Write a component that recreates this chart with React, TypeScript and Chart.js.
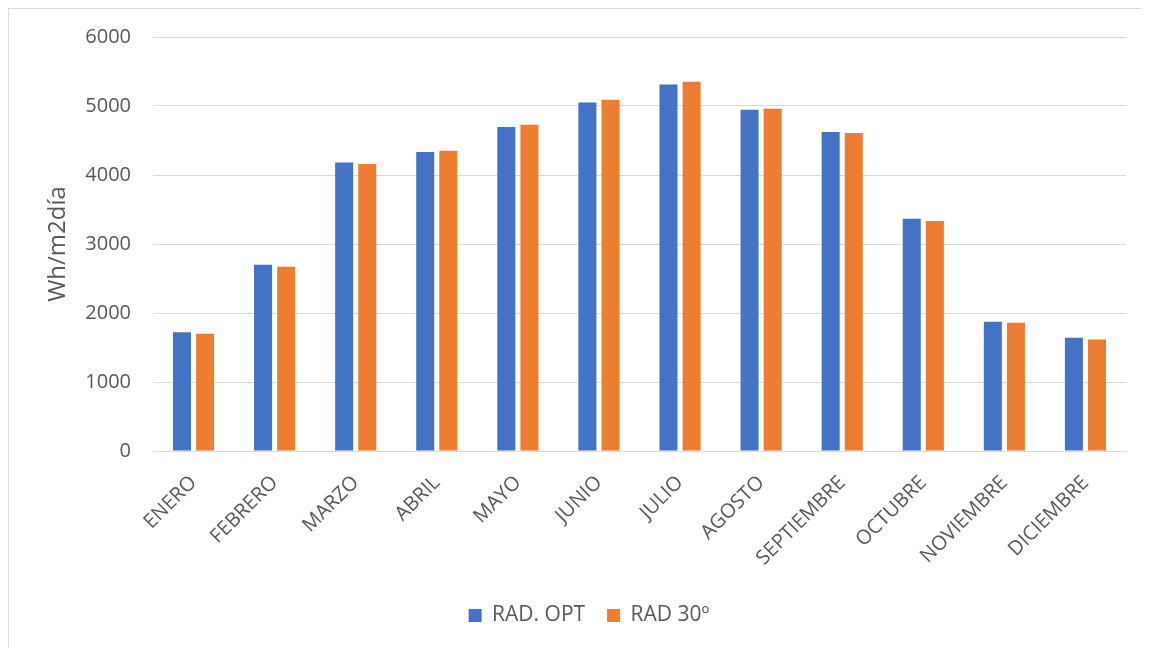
import React, { useEffect, useRef } from "react";
import { Chart, registerables } from "chart.js";

Chart.register(...registerables);

// Monthly daily irradiation (Wh/m2·día)
const months = [
  "ENERO", "FEBRERO", "MARZO", "ABRIL", "MAYO", "JUNIO",
  "JULIO", "AGOSTO", "SEPTIEMBRE", "OCTUBRE", "NOVIEMBRE", "DICIEMBRE",
];
const radOpt = [1720, 2700, 4180, 4335, 4695, 5050, 5310, 4945, 4625, 3365, 1875, 1640];
const rad30 = [1700, 2670, 4160, 4350, 4730, 5090, 5350, 4960, 4610, 3335, 1860, 1615];
const yTicks = [0, 1000, 2000, 3000, 4000, 5000, 6000];

const FONT = "'Open Sans', 'Noto Sans', sans-serif";
const TEXT = "#595959";
const GRID = "#d9d9d9";

export default function App() {
  const canvasRef = useRef<HTMLCanvasElement | null>(null);

  useEffect(() => {
    const canvas = canvasRef.current;
    if (!canvas) return;
    const chart = new Chart(canvas, {
      type: "bar",
      data: {
        labels: months,
        datasets: [
          {
            label: "RAD. OPT",
            data: radOpt,
            backgroundColor: "#4472C4",
            categoryPercentage: 0.57,
            barPercentage: 0.78,
          },
          {
            label: "RAD 30º",
            data: rad30,
            backgroundColor: "#ED7D31",
            categoryPercentage: 0.57,
            barPercentage: 0.78,
          },
        ],
      },
      options: {
        responsive: false,
        animation: false,
        devicePixelRatio: 1,
        layout: { padding: { top: 28, bottom: 12, left: 43, right: 85 } },
        plugins: {
          tooltip: { enabled: false },
          legend: {
            position: "bottom",
            labels: {
              boxWidth: 13,
              boxHeight: 13,
              padding: 22,
              color: TEXT,
              font: { family: FONT, size: 21 },
            },
          },
        },
        scales: {
          x: {
            grid: { display: false, drawTicks: false },
            border: { display: true, color: GRID, width: 1 },
            ticks: {
              color: TEXT,
              font: { family: FONT, size: 20 },
              minRotation: 45,
              maxRotation: 45,
              padding: 20,
              autoSkip: false,
            },
            afterFit: (scale: any) => {
              scale.height = 132;
            },
          },
          y: {
            min: 0,
            max: 6000,
            afterBuildTicks: (scale: any) => {
              scale.ticks = yTicks.map((v) => ({ value: v }));
            },
            grid: { color: GRID, lineWidth: 1, drawTicks: false },
            border: { display: false },
            ticks: {
              color: TEXT,
              font: { family: FONT, size: 20 },
              padding: 22,
              callback: (v: any) => String(v),
            },
            title: {
              display: true,
              text: "Wh/m2día",
              color: TEXT,
              font: { family: FONT, size: 24 },
              padding: { top: -8, bottom: 0 },
            },
            afterFit: (scale: any) => {
              scale.width = 101;
              scale.paddingTop = 0;
              scale.paddingBottom = 0;
            },
          },
        },
      },
    });
    return () => chart.destroy();
  }, []);

  return (
    <div
      style={{
        width: 1141,
        height: 640,
        overflow: "hidden",
        borderTop: "1px solid #d9d9d9",
        borderLeft: "1px solid #d9d9d9",
        boxSizing: "border-box",
        background: "#ffffff",
      }}
    >
      <canvas ref={canvasRef} width={1202} height={639} style={{ display: "block" }} />
    </div>
  );
}
